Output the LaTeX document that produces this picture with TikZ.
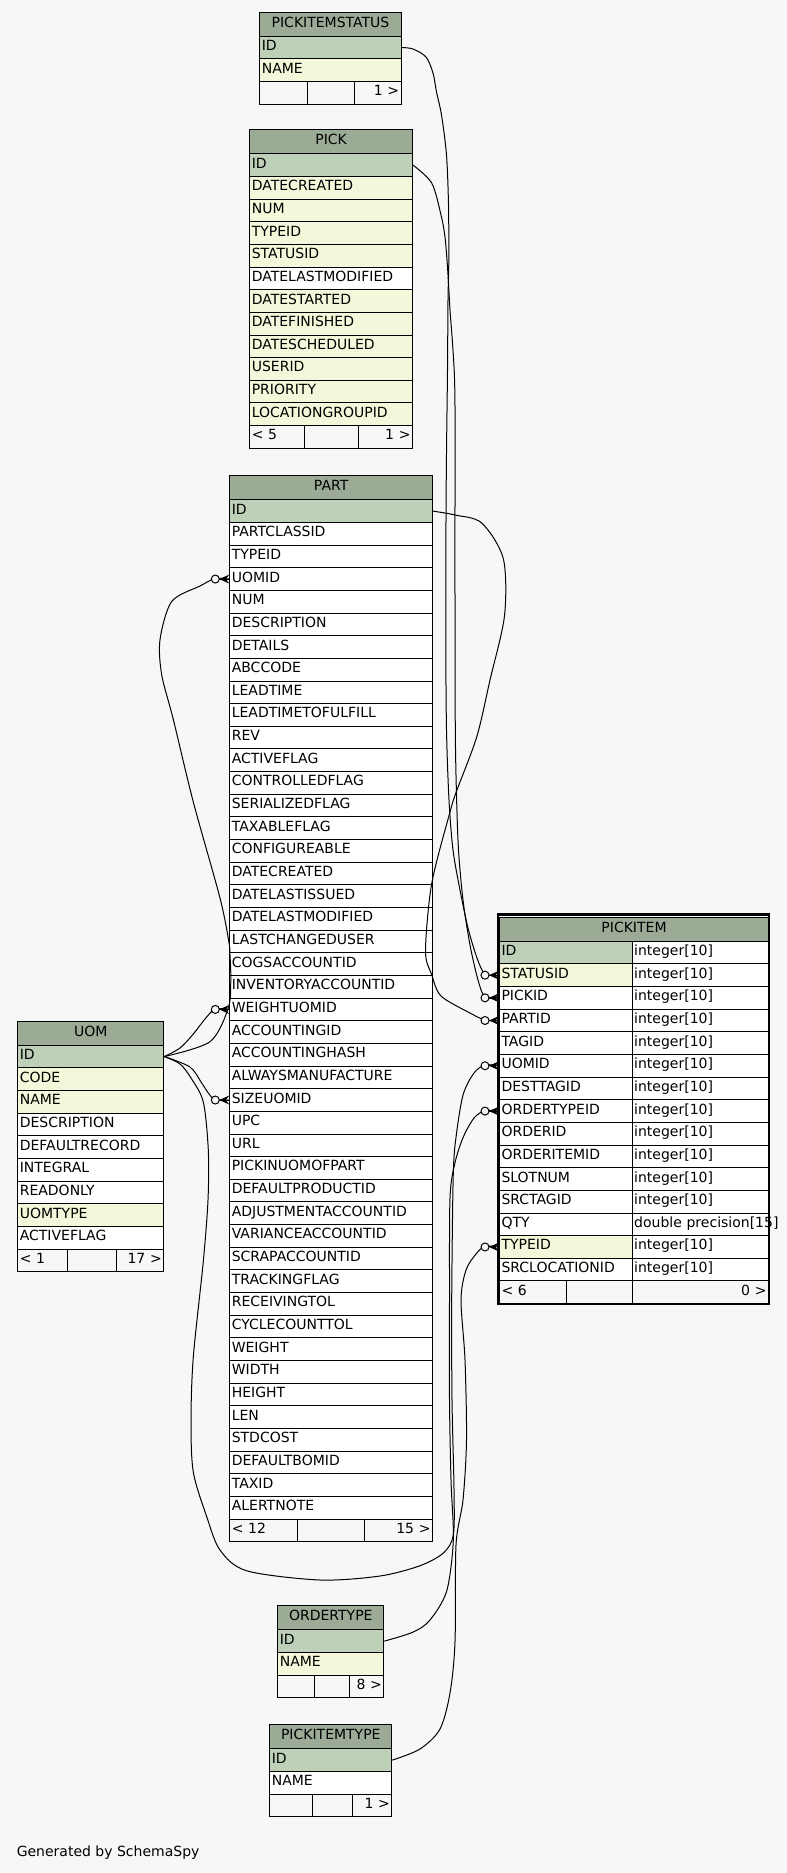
\documentclass[tikz,border=0pt]{standalone}
\usepackage{fontspec}
\setmainfont{DejaVu Sans}
\usetikzlibrary{calc}
\definecolor{bgc}{HTML}{F7F7F7}
\definecolor{hdrc}{HTML}{9BAB96}
\definecolor{pkc}{HTML}{BED1B8}
\definecolor{ixc}{HTML}{F4F7DA}
\newlength{\pxl}\setlength{\pxl}{0.75pt}
\tikzset{
  cell/.style={draw=black, line width=1\pxl, rectangle, anchor=north west,
    inner xsep=2\pxl, inner ysep=0pt, text height=10\pxl, text depth=4\pxl,
    font=\fontsize{10.5}{12}\selectfont, align=left},
  conn/.style={draw=black, line width=1\pxl},
}
% #1 prefix, #2 x, #3 top, #4 width, #5 title
\newcommand{\tabhead}[5]{%
  \pgfmathsetmacro\tw{#4-4}%
  \node[cell, fill=hdrc, text width=\tw\pxl, align=center, minimum height=24\pxl,
        text height=10\pxl, text depth=4\pxl] (#1-hdr) at (#2,#3) {#5};}
% #1 prefix, #2 x, #3 first row top, #4 width, #5 list name/colour
\newcommand{\tabrows}[5]{%
  \pgfmathsetmacro\tw{#4-4}%
  \foreach \n/\rc [count=\i from 0] in {#5} {%
    \node[cell, fill=\rc, text width=\tw\pxl, minimum height=22.65\pxl] (#1-\n) at (#2,#3+\i*22.65) {\n};}}
% #1 prefix, #2 y, #3..#6 x dividers, #7 left text, #8 right text
\newcommand{\tabfoot}[8]{%
  \pgfmathsetmacro\wa{#4-#3-4}\pgfmathsetmacro\wb{#5-#4-4}\pgfmathsetmacro\wc{#6-#5-4}%
  \node[cell, fill=bgc, text width=\wa\pxl, minimum height=22.65\pxl] (#1-fa) at (#3,#2) {#7};
  \node[cell, fill=bgc, text width=\wb\pxl, minimum height=22.65\pxl] (#1-fb) at (#4,#2) {};
  \node[cell, fill=bgc, text width=\wc\pxl, align=right, minimum height=22.65\pxl] (#1-fc) at (#5,#2) {#8};}
\newcommand{\crowodot}[1]{%
  \fill[black] ($(#1.west)+(-10,0)$) -- ($(#1.west)+(0,-4.5)$) -- ($(#1.west)+(-3.5,0)$) -- ($(#1.west)+(0,4.5)$) -- cycle;
  \draw[line width=1\pxl] ($(#1.west)+(-10,0)$) -- (#1.west);
  \draw[fill=bgc, line width=1\pxl] ($(#1.west)+(-14,0)$) circle[radius=4\pxl];}
\begin{document}
\begin{tikzpicture}[x=0.75pt,y=-0.75pt]
\useasboundingbox (0,0) rectangle (787,1873);
\fill[bgc] (0,0) rectangle (787,1873);

% PICKITEMSTATUS
\tabhead{pis}{259.3}{11.7}{141.4}{PICKITEMSTATUS}
\tabrows{pis}{259.3}{35.7}{141.4}{ID/pkc,NAME/ixc}
\tabfoot{pis}{81.0}{259.3}{307.3}{353.7}{400.7}{}{1 >}

% PICK
\tabhead{pk}{249.3}{129.3}{162.7}{PICK}
\tabrows{pk}{249.3}{153.3}{162.7}{ID/pkc,DATECREATED/ixc,NUM/ixc,TYPEID/ixc,STATUSID/ixc,DATELASTMODIFIED/white,DATESTARTED/ixc,DATEFINISHED/ixc,DATESCHEDULED/ixc,USERID/ixc,PRIORITY/ixc,LOCATIONGROUPID/ixc}
\tabfoot{pk}{425.1}{249.3}{304.3}{357.7}{412}{< 5}{1 >}

% PART
\tabhead{pt}{229.3}{475.3}{202.7}{PART}
\tabrows{pt}{229.3}{499.3}{202.7}{ID/pkc,PARTCLASSID/white,TYPEID/white,UOMID/white,NUM/white,DESCRIPTION/white,DETAILS/white,ABCCODE/white,LEADTIME/white,LEADTIMETOFULFILL/white,REV/white,ACTIVEFLAG/white,CONTROLLEDFLAG/white,SERIALIZEDFLAG/white,TAXABLEFLAG/white,CONFIGUREABLE/white,DATECREATED/white,DATELASTISSUED/white,DATELASTMODIFIED/white,LASTCHANGEDUSER/white,COGSACCOUNTID/white,INVENTORYACCOUNTID/white,WEIGHTUOMID/white,ACCOUNTINGID/white,ACCOUNTINGHASH/white,ALWAYSMANUFACTURE/white,SIZEUOMID/white,UPC/white,URL/white,PICKINUOMOFPART/white,DEFAULTPRODUCTID/white,ADJUSTMENTACCOUNTID/white,VARIANCEACCOUNTID/white,SCRAPACCOUNTID/white,TRACKINGFLAG/white,RECEIVINGTOL/white,CYCLECOUNTTOL/white,WEIGHT/white,WIDTH/white,HEIGHT/white,LEN/white,STDCOST/white,DEFAULTBOMID/white,TAXID/white,ALERTNOTE/white}
\tabfoot{pt}{1518.55}{229.3}{297.3}{364.3}{432}{< 12}{15 >}

% UOM
\tabhead{uom}{17.3}{1020.7}{146}{UOM}
\tabrows{uom}{17.3}{1044.7}{146}{ID/pkc,CODE/ixc,NAME/ixc,DESCRIPTION/white,DEFAULTRECORD/white,INTEGRAL/white,READONLY/white,UOMTYPE/ixc,ACTIVEFLAG/white}
\tabfoot{uom}{1248.55}{17.3}{67.3}{115.7}{163.3}{< 1}{17 >}

% PICKITEM
\tabhead{pi}{499}{916.7}{269}{PICKITEM}
\tabrows{pi}{499}{940.7}{132.7}{ID/pkc,STATUSID/ixc,PICKID/white,PARTID/white,TAGID/white,UOMID/white,DESTTAGID/white,ORDERTYPEID/white,ORDERID/white,ORDERITEMID/white,SLOTNUM/white,SRCTAGID/white,QTY/white,TYPEID/ixc,SRCLOCATIONID/white}
\foreach \n/\ty [count=\i from 0] in {ID/integer[10],STATUSID/integer[10],PICKID/integer[10],PARTID/integer[10],TAGID/integer[10],UOMID/integer[10],DESTTAGID/integer[10],ORDERTYPEID/integer[10],ORDERID/integer[10],ORDERITEMID/integer[10],SLOTNUM/integer[10],SRCTAGID/integer[10],QTY/\rlap{double precision[15]},TYPEID/integer[10],SRCLOCATIONID/integer[10]} {
  \node[cell, fill=white, text width=132.3\pxl, minimum height=22.65\pxl] (pi-\n-t) at (631.7,940.7+\i*22.65) {\ty};}
\tabfoot{pi}{1280.45}{499}{565.7}{631.7}{768}{< 6}{0 >}
\draw[line width=2.3\pxl] (497.9,914.6) rectangle (768.9,1303.9);

% ORDERTYPE
\tabhead{ot}{277.3}{1605.3}{106}{ORDERTYPE}
\tabrows{ot}{277.3}{1629.3}{106}{ID/pkc,NAME/ixc}
\tabfoot{ot}{1674.6}{277.3}{313.7}{348.7}{383.3}{}{8 >}

% PICKITEMTYPE
\tabhead{pit}{269.3}{1724.3}{122}{PICKITEMTYPE}
\tabrows{pit}{269.3}{1748.3}{122}{ID/pkc,NAME/white}
\tabfoot{pit}{1793.6}{269.3}{311.7}{351.7}{391.3}{}{1 >}

% connectors
\draw[conn] plot[smooth, tension=0.5] coordinates {(pis-ID.east) (413,49) (426,57) (433,73) (436.5,92) (441.5,115) (446.5,155) (448.5,205) (448.8,260) (448,300) (447.5,370) (446.5,453) (446,520) (445.8,640) (446.5,730) (449,800) (453,850) (460,890) (468,928) (477,958) (485,974) (pi-STATUSID.west)};
\draw[conn] plot[smooth, tension=0.5] coordinates {(pk-ID.east) (431.7,183) (441,215) (445,237) (447.7,270) (450,310) (452.3,340) (454.3,373) (455,407) (455,480) (455,600) (455.3,730) (456.5,795) (458.5,850) (463,900) (470,945) (478,980) (485,997) (pi-PICKID.west)};
\draw[conn] plot[smooth, tension=0.5] coordinates {(pt-ID.east) (455,515) (481.7,523) (503.3,558.6) (504.5,615.7) (490,680) (476.7,737) (456.7,790.7) (450,812) (431.7,883.6) (425.5,951) (431.7,974.6) (441,996) (470,1013) (485,1020) (pi-PARTID.west)};
\draw[conn] plot[smooth, tension=0.5] coordinates {(uom-ID.east) (210,1041.7) (228.3,1008) (230.8,980) (230,955) (229,942.6) (220,898) (193.3,802) (173.3,719.4) (161.7,674.8) (160,639.7) (171.7,601.5) (200,586) (215,578.6) (pt-UOMID.west)};
\draw[conn] plot[smooth, tension=0.5] coordinates {(uom-ID.east) (180,1048) (193.3,1034) (205,1019) (215,1009) (pt-WEIGHTUOMID.west)};
\draw[conn] plot[smooth, tension=0.5] coordinates {(uom-ID.east) (190,1067) (201.7,1083) (209,1094) (215,1099.5) (pt-SIZEUOMID.west)};
\draw[conn] plot[smooth, tension=0.5] coordinates {(uom-ID.east) (180,1064) (191,1078) (203.3,1102) (208.3,1150) (208,1200) (203.3,1261.5) (193.3,1357) (191,1421) (193.3,1472) (206.7,1516.6) (220,1550) (246.7,1570.8) (320,1580) (380,1576) (420,1565.7) (443.3,1553) (453.3,1535) (454,1489) (452,1400) (451.7,1300) (453.3,1173) (456.7,1132) (463.3,1094) (474,1073) (485,1065) (pi-UOMID.west)};
\draw[conn] plot[smooth, tension=0.5] coordinates {(ot-ID.east) (413.3,1632) (430,1620) (446.7,1591) (453.3,1540) (451,1480) (449.5,1400) (449.5,1300) (450,1198) (455,1162.7) (463.3,1137) (474,1118) (485,1110.6) (pi-ORDERTYPEID.west)};
\draw[conn] plot[smooth, tension=0.5] coordinates {(pit-ID.east) (420,1749) (440,1729) (450,1693) (455,1642) (456,1545) (463,1500) (466.5,1440) (465,1360) (461,1300) (466,1270) (476,1254) (485,1246.3) (pi-TYPEID.west)};

\crowodot{pi-STATUSID}
\crowodot{pi-PICKID}
\crowodot{pi-PARTID}
\crowodot{pi-UOMID}
\crowodot{pi-ORDERTYPEID}
\crowodot{pi-TYPEID}
\crowodot{pt-UOMID}
\crowodot{pt-WEIGHTUOMID}
\crowodot{pt-SIZEUOMID}

\node[anchor=base west, inner sep=0pt, font=\fontsize{10.5}{12}\selectfont] (gen) at (16.5,1856.5) {Generated by SchemaSpy};
\end{tikzpicture}
\end{document}
